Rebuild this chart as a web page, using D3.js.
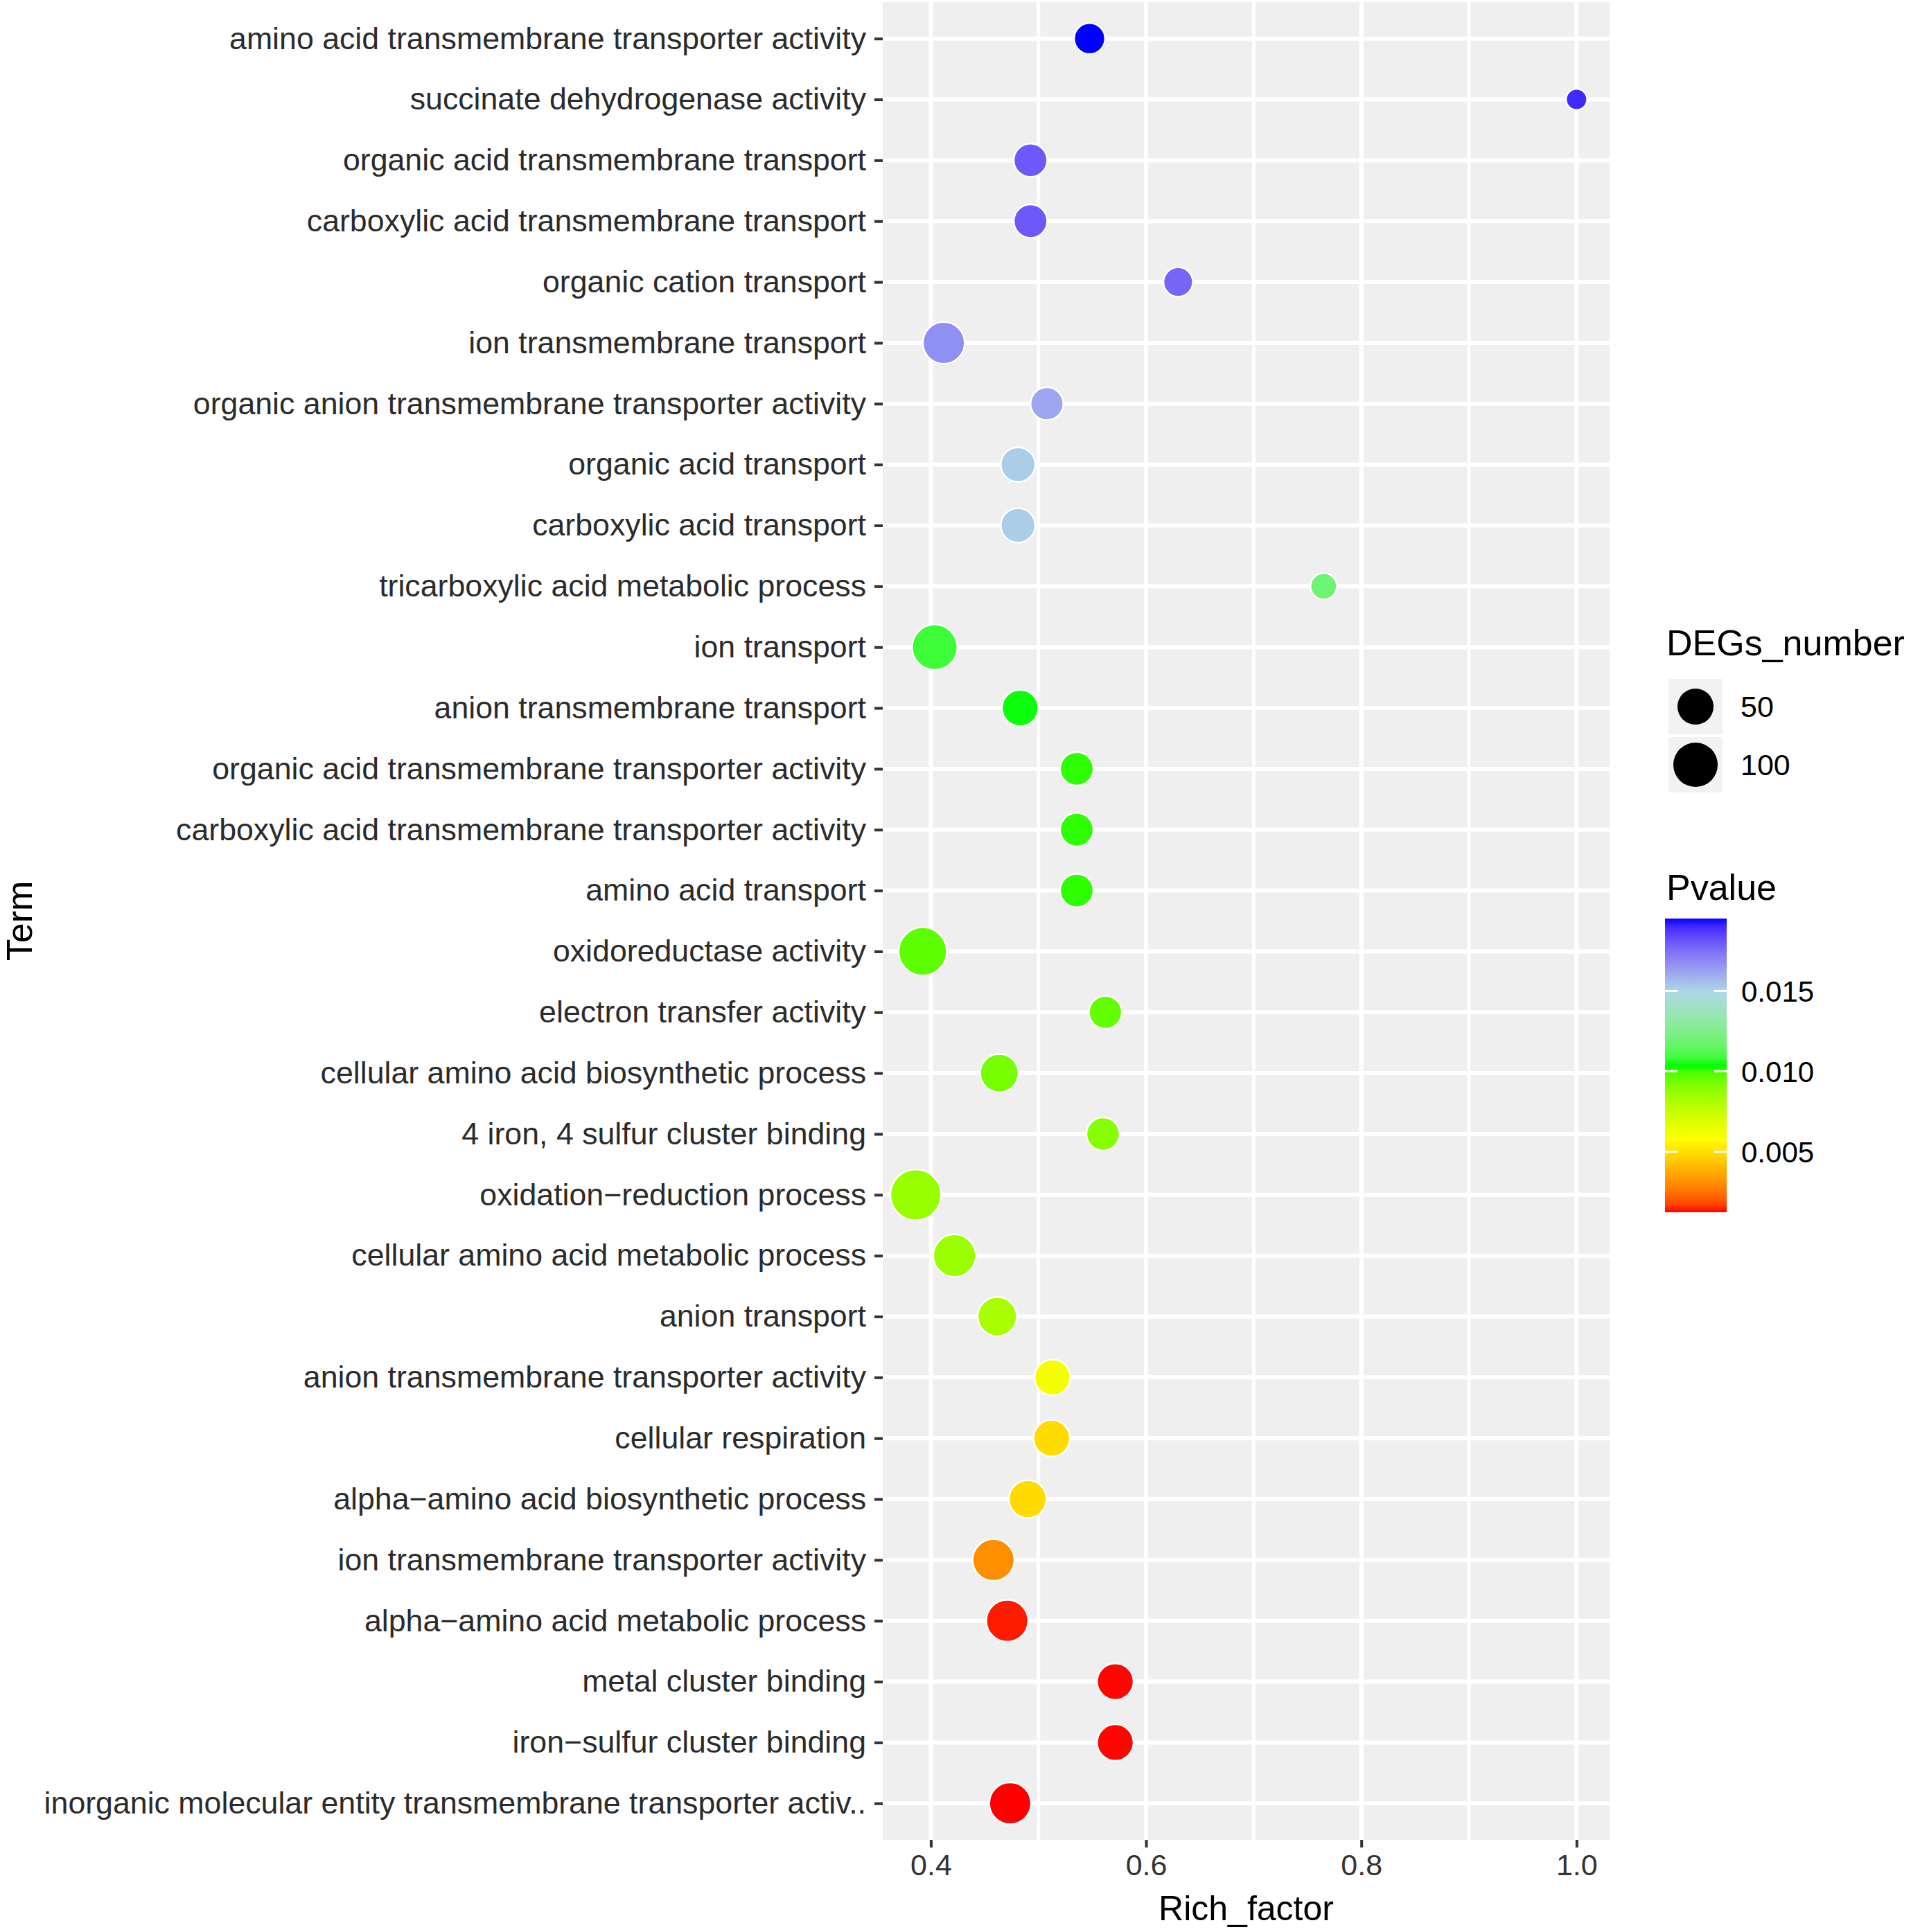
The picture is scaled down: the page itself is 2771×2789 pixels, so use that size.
<!DOCTYPE html>
<html>
<head>
<meta charset="utf-8">
<script src="https://cdn.jsdelivr.net/npm/d3@7"></script>
<style>
  body { margin: 0; background: #fff; }
  svg { display: block; font-family: "Liberation Sans", Arial, sans-serif; }
</style>
</head>
<body>
<div id="vis"></div>
<script>
// GO terms, top to bottom
const terms = [
  "amino acid transmembrane transporter activity",
  "succinate dehydrogenase activity",
  "organic acid transmembrane transport",
  "carboxylic acid transmembrane transport",
  "organic cation transport",
  "ion transmembrane transport",
  "organic anion transmembrane transporter activity",
  "organic acid transport",
  "carboxylic acid transport",
  "tricarboxylic acid metabolic process",
  "ion transport",
  "anion transmembrane transport",
  "organic acid transmembrane transporter activity",
  "carboxylic acid transmembrane transporter activity",
  "amino acid transport",
  "oxidoreductase activity",
  "electron transfer activity",
  "cellular amino acid biosynthetic process",
  "4 iron, 4 sulfur cluster binding",
  "oxidation\u2212reduction process",
  "cellular amino acid metabolic process",
  "anion transport",
  "anion transmembrane transporter activity",
  "cellular respiration",
  "alpha\u2212amino acid biosynthetic process",
  "ion transmembrane transporter activity",
  "alpha\u2212amino acid metabolic process",
  "metal cluster binding",
  "iron\u2212sulfur cluster binding",
  "inorganic molecular entity transmembrane transporter activ.."
]
const richFactor = [0.5475, 1.0, 0.4926, 0.4926, 0.6298, 0.412, 0.5079, 0.481, 0.481, 0.765,
                    0.4036, 0.483, 0.5356, 0.5356, 0.5356, 0.3924, 0.5622, 0.4636, 0.560, 0.386,
                    0.422, 0.4617, 0.513, 0.5123, 0.490, 0.4582, 0.471, 0.5714, 0.5714, 0.4737]
const pvalue = [0.0195, 0.0190, 0.0180, 0.0180, 0.0177, 0.0167, 0.0161, 0.0152, 0.0152, 0.0119,
                0.0108, 0.0104, 0.0102, 0.0102, 0.0102, 0.0097, 0.0096, 0.0093, 0.0090, 0.0086,
                0.0085, 0.0082, 0.0061, 0.0049, 0.0049, 0.0031, 0.00133, 0.00125, 0.00125, 0.00123]
const degsNumber = [24, 10, 32, 32, 20, 72, 30, 36, 36, 14,
                    95, 44, 32, 32, 32, 116, 30, 53, 31, 138,
                    77, 57, 41, 44, 50, 72, 72, 44, 44, 72]

const xTicks = [0.4, 0.6, 0.8, 1.0]
const xMinor = [0.5, 0.7, 0.9]
const sizeBreaks = [50, 100]
const pBreaks = [0.005, 0.010, 0.015]
const gradientColors = ["#FF0000", "#FFFF00", "#00FF00", "#ADD8E6", "#0000FF"]

const data = terms.map((t, i) => ({term: t, rich: richFactor[i], p: pvalue[i], n: degsNumber[i]}))

const W = 2771, H = 2789
const panel = {left: 1274, right: 2323, top: 3, bottom: 2656}

// ggplot-like 5% expansion
let [rMin, rMax] = d3.extent(richFactor)
let pad = (rMax - rMin) * 0.05
let x = d3.scaleLinear()
    .domain([rMin - pad, rMax + pad])
    .range([panel.left, panel.right])

let y = d3.scalePoint()
    .domain(terms)
    .range([panel.top, panel.bottom])
    .padding(0.6)

let [pMin, pMax] = d3.extent(pvalue)
let color = d3.scaleLinear()
    .domain(d3.range(5).map(i => pMin + i * (pMax - pMin) / 4))
    .range(gradientColors)
    .interpolate(d3.interpolateLab)

// area palette: diameter grows with sqrt of rescaled count
let [nMin, nMax] = d3.extent(degsNumber)
let sizeT = d3.scaleLinear().domain([nMin, nMax]).range([0, 1])
let diam = d3.scaleLinear().domain([0, 1]).range([28, 71])
let radius = n => diam(Math.sqrt(Math.max(0, sizeT(n)))) / 2

let svg = d3.select("#vis").append("svg")
    .attr("width", W)
    .attr("height", H)

svg.append("rect")
    .attr("x", panel.left).attr("y", panel.top)
    .attr("width", panel.right - panel.left)
    .attr("height", panel.bottom - panel.top)
    .attr("fill", "#efefef")

let grid = svg.append("g").attr("stroke", "#fff")

grid.selectAll("line.minor")
    .data(xMinor)
    .join("line")
    .attr("class", "minor")
    .attr("x1", d => x(d)).attr("x2", d => x(d))
    .attr("y1", panel.top).attr("y2", panel.bottom)
    .attr("stroke-width", 5)

grid.selectAll("line.majx")
    .data(xTicks)
    .join("line")
    .attr("class", "majx")
    .attr("x1", d => x(d)).attr("x2", d => x(d))
    .attr("y1", panel.top).attr("y2", panel.bottom)
    .attr("stroke-width", 6)

grid.selectAll("line.majy")
    .data(terms)
    .join("line")
    .attr("class", "majy")
    .attr("x1", panel.left).attr("x2", panel.right)
    .attr("y1", d => y(d)).attr("y2", d => y(d))
    .attr("stroke-width", 6)

// points
svg.append("g")
    .selectAll("circle")
    .data(data)
    .join("circle")
    .attr("cx", d => x(d.rich))
    .attr("cy", d => y(d.term))
    .attr("r", d => radius(d.n) + 1.2)
    .attr("fill", d => color(d.p))
    .attr("stroke", "#fff")
    .attr("stroke-width", 2.4)

// y axis
let yAxis = svg.append("g")
    .attr("transform", `translate(${panel.left},0)`)
    .call(d3.axisLeft(y).tickSize(12).tickPadding(12))
yAxis.select(".domain").remove()
yAxis.selectAll(".tick line").attr("stroke", "#333").attr("stroke-width", 4)
yAxis.selectAll(".tick text")
    .attr("fill", "#2b2b2b")
    .attr("font-size", 44.7)
    .attr("font-family", "'Liberation Sans', Arial, sans-serif")

// x axis
let xAxis = svg.append("g")
    .attr("transform", `translate(0,${panel.bottom})`)
    .call(d3.axisBottom(x).tickValues(xTicks).tickFormat(d3.format(".1f")).tickSize(11).tickPadding(9))
xAxis.select(".domain").remove()
xAxis.selectAll(".tick line").attr("stroke", "#333").attr("stroke-width", 4)
xAxis.selectAll(".tick text")
    .attr("fill", "#333")
    .attr("font-size", 43)
    .attr("font-family", "'Liberation Sans', Arial, sans-serif")

svg.append("text")
    .attr("x", (panel.left + panel.right) / 2)
    .attr("y", 2772)
    .attr("text-anchor", "middle")
    .attr("font-size", 50)
    .text("Rich_factor")

svg.append("text")
    .attr("transform", `translate(46,${(panel.top + panel.bottom) / 2}) rotate(-90)`)
    .attr("text-anchor", "middle")
    .attr("font-size", 52)
    .text("Term")

// size legend
let lg = svg.append("g").attr("transform", "translate(2405,0)")
lg.append("text")
    .attr("x", 0).attr("y", 946)
    .attr("font-size", 52)
    .text("DEGs_number")

let keys = lg.selectAll("g.key")
    .data(sizeBreaks)
    .join("g")
    .attr("class", "key")
    .attr("transform", (d, i) => `translate(0,${980 + i * 84})`)
keys.append("rect")
    .attr("x", 3).attr("y", 0)
    .attr("width", 78).attr("height", 80)
    .attr("fill", "#f2f2f2")
keys.append("circle")
    .attr("cx", 42).attr("cy", 40)
    .attr("r", d => radius(d))
    .attr("fill", "#000")
keys.append("text")
    .attr("x", 107).attr("y", 40)
    .attr("dy", "0.36em")
    .attr("font-size", 43)
    .text(d => d)

// colour bar
let bar = {x: 2403, w: 89, top: 1326, bottom: 1750}
lg.append("text")
    .attr("x", 0).attr("y", 1299)
    .attr("font-size", 52)
    .text("Pvalue")

let defs = svg.append("defs")
let grad = defs.append("linearGradient")
    .attr("id", "pgrad")
    .attr("x1", 0).attr("y1", 1).attr("x2", 0).attr("y2", 0)
grad.selectAll("stop")
    .data(d3.range(41).map(i => i / 40))
    .join("stop")
    .attr("offset", d => d)
    .attr("stop-color", d => color(pMin + d * (pMax - pMin)))

let yBar = d3.scaleLinear().domain([pMin, pMax]).range([bar.bottom, bar.top])

svg.append("rect")
    .attr("x", bar.x).attr("y", bar.top)
    .attr("width", bar.w).attr("height", bar.bottom - bar.top)
    .attr("fill", "url(#pgrad)")

let bt = svg.append("g")
    .selectAll("g")
    .data(pBreaks)
    .join("g")
    .attr("transform", d => `translate(0,${yBar(d)})`)
bt.append("line")
    .attr("x1", bar.x).attr("x2", bar.x + 18)
    .attr("stroke", "#fff").attr("stroke-width", 3)
bt.append("line")
    .attr("x1", bar.x + bar.w - 18).attr("x2", bar.x + bar.w)
    .attr("stroke", "#fff").attr("stroke-width", 3)
bt.append("text")
    .attr("x", 2513)
    .attr("dy", "0.36em")
    .attr("font-size", 42)
    .text(d => d3.format(".3f")(d))
</script>
</body>
</html>
